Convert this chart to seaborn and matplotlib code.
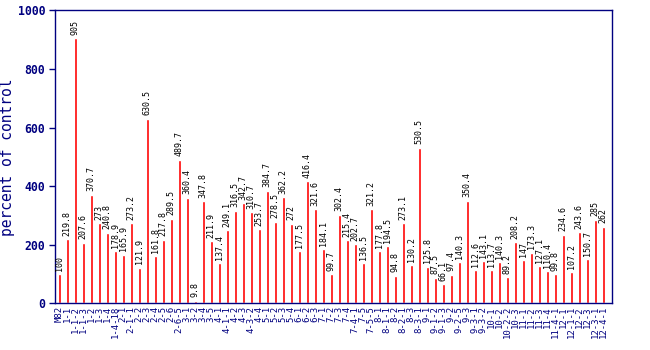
import matplotlib
matplotlib.use("Agg")
import matplotlib.pyplot as plt
import seaborn as sns
import pandas as pd

# Introgression lines and their expression, relative to M82
lines = [
    "M82", "1-1", "1-1-2", "1-1-3", "1-2", "1-3", "1-4", "1-4-18",
    "2-1", "2-1-1", "2-2", "2-3", "2-4", "2-5", "2-6", "2-6-5",
    "3-1", "3-2", "3-4", "3-5",
    "4-1", "4-1-1", "4-2", "4-3", "4-3-2", "4-4",
    "5-1", "5-2", "5-3", "5-4", "6-1", "6-2", "6-3",
    "7-1", "7-2", "7-3", "7-4", "7-4-1", "7-5", "7-5-5",
    "8-1", "8-1-1", "8-2", "8-2-1", "8-3", "8-3-1",
    "9-1", "9-1-2", "9-1-3", "9-2", "9-2-5", "9-3", "9-3-1", "9-3-2",
    "10-1", "10-2", "10-2-2", "10-3",
    "11-1", "11-2", "11-3", "11-4", "11-4-1",
    "12-1", "12-1-1", "12-2", "12-3", "12-3-1", "12-4-1",
]
percent = [
    100, 219.8, 905, 207.6, 370.7, 273, 240.8, 178.9, 165.9, 273.2,
    121.9, 630.5, 161.8, 217.8, 289.5, 489.7, 360.4, 9.8, 347.8, 211.9,
    137.4, 249.1, 316.5, 342.7, 310.7, 253.7, 384.7, 278.5, 362.2, 272,
    177.5, 416.4, 321.6, 184.1, 99.7, 302.4, 215.4, 202.7, 136.5, 321.2,
    177.8, 194.5, 94.8, 273.1, 130.2, 530.5, 125.8, 87.5, 66.1, 97.4,
    140.3, 350.4, 112.6, 143.1, 113.7, 140.3, 89.2, 208.2, 147, 173.3,
    127.1, 110.4, 99.8, 234.6, 107.2, 243.6, 150.7, 285, 262,
]
y_ticks = [0, 200, 400, 600, 800, 1000]

navy = "#000080"
mono = "DejaVu Sans Mono"

sns.set_theme(style="white")
plt.rcParams["font.family"] = [mono, "DejaVu Sans"]

df = pd.DataFrame({"line": lines, "percent": percent})

fig = plt.figure(figsize=(6.5, 3.5), dpi=100)
ax = fig.add_axes([0.0846, 0.133, 0.8565, 0.8376])

sns.barplot(data=df, x="line", y="percent", order=lines, color="red",
            saturation=1, width=0.38, ax=ax, errorbar=None)

# value annotations above each bar
for i, v in enumerate(df["percent"]):
    ax.annotate(format(v, "g"), xy=(i, v), xytext=(0, 2.5),
                textcoords="offset points", rotation=90, ha="center",
                va="bottom", fontsize=6, color="black", family=mono)

ax.set_xlim(-0.54, 69.05)
ax.set_ylim(0, 1000)
ax.set_yticks(y_ticks)
ax.set_yticklabels([str(t) for t in y_ticks], fontsize=8.3,
                   fontweight="bold", color=navy, family=mono)
ax.set_xticks(range(len(lines)))
ax.set_xticklabels(lines, rotation=90, fontsize=6.5, color=navy, family=mono)
ax.tick_params(axis="x", length=0, pad=2)
ax.tick_params(axis="y", length=4, width=1, color=navy, direction="out",
               left=True, pad=3)
ax.set_xlabel("")
ax.set_ylabel("percent of control", fontsize=10.5, color=navy, family=mono)
ax.yaxis.set_label_coords(-0.072, 0.5)
for sp in ax.spines.values():
    sp.set_visible(True)
    sp.set_color(navy)
    sp.set_linewidth(1)
ax.grid(False)

fig.savefig("out.png", dpi=100, facecolor="white")
